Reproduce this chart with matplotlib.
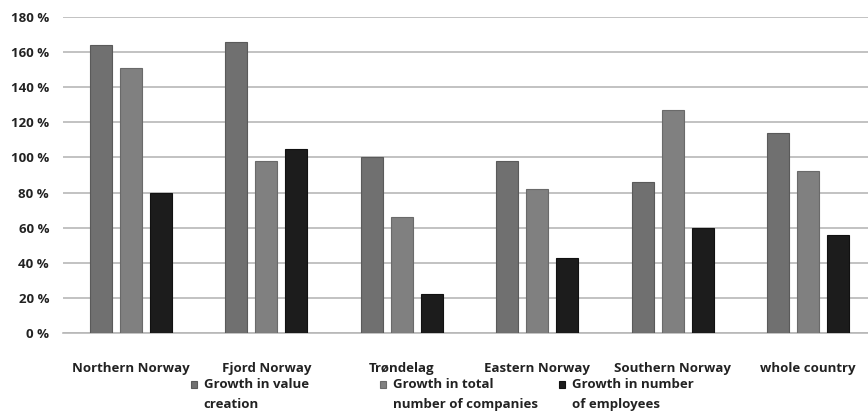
from matplotlib import pyplot as plt
from matplotlib.legend_handler import HandlerPatch
from matplotlib.patches import Rectangle
import numpy as np

# regions on the x-axis
regions = ["Northern Norway", "Fjord Norway", "Trøndelag",
           "Eastern Norway", "Southern Norway", "whole country"]

# growth values in percent
value_creation = [164, 166, 100, 98, 86, 114]
total_companies = [151, 98, 66, 82, 127, 92]
employees = [80, 105, 22, 43, 60, 56]

series_names = ["Growth in value\ncreation",
                "Growth in total\nnumber of companies",
                "Growth in number\nof employees"]
colors = ["#707070", "#808080", "#1c1c1c"]
edges = ["#5a5a5a", "#6a6a6a", "#111111"]

plt.rcParams['font.family'] = ['Open Sans', 'DejaVu Sans']

fig = plt.figure(figsize=(8.68, 4.19), dpi=100)
ax = fig.add_axes([63 / 868, 86 / 419, 813 / 868, 316 / 419])

x = np.arange(len(regions))
width = 0.162
offset = 0.222

bars = []
for i, vals in enumerate([value_creation, total_companies, employees]):
    b = ax.bar(x + (i - 1) * offset, vals, width, color=colors[i],
               edgecolor=edges[i], linewidth=0.8, label=series_names[i], zorder=3)
    bars.append(b)

# axis config
ax.set_xlim(-0.5, 5.5)
ax.set_ylim(0, 180)
ax.set_yticks(np.arange(0, 181, 20))
ax.set_yticklabels([f"{v} %" for v in range(0, 181, 20)])
ax.set_xticks(x)
ax.set_xticklabels(regions)
ax.yaxis.grid(True, color="#b8b8b8", linewidth=1.2, zorder=0)
ax.tick_params(axis="both", length=0, colors="#222222")
ax.tick_params(axis="y", pad=10, labelsize=9.5)
ax.tick_params(axis="x", pad=21, labelsize=9.5)
for lbl in ax.get_xticklabels() + ax.get_yticklabels():
    lbl.set_fontweight("bold")
for s in ["top", "right", "left"]:
    ax.spines[s].set_visible(False)
ax.spines["bottom"].set_color("#b8b8b8")
ax.spines["bottom"].set_linewidth(1.2)


# legend marker sits next to the first line of the two-line label
def top_square(legend, orig_handle, xdescent, ydescent, width, height, fontsize):
    return Rectangle((-xdescent, -ydescent + 7.5), width, height)


# legend, one entry per block like the original
anchors = [191 / 868, 380 / 868, 559 / 868]
for i in range(3):
    handle = bars[i].patches[0]
    leg = fig.legend([handle], [series_names[i]], loc="upper left",
                     bbox_to_anchor=(anchors[i], 41 / 419), frameon=False,
                     handlelength=0.45, handleheight=0.45, handletextpad=0.5,
                     borderaxespad=0, borderpad=0,
                     handler_map={handle: HandlerPatch(patch_func=top_square)},
                     prop={"size": 9.5, "weight": "bold"})
    for t in leg.get_texts():
        t.set_color("#222222")
        t.set_linespacing(1.65)

fig.savefig("out.png", dpi=100)
